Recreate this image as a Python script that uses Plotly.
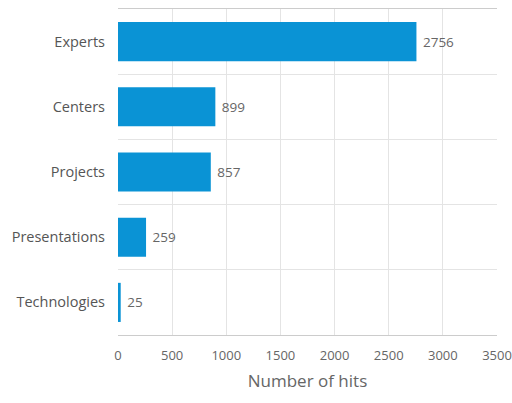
import plotly.graph_objects as go

categories = ["Experts", "Centers", "Projects", "Presentations", "Technologies"]
hits = [2756, 899, 857, 259, 25]
tick_vals = [0, 500, 1000, 1500, 2000, 2500, 3000, 3500]

fig = go.Figure(go.Bar(
    y=categories,
    x=hits,
    orientation="h",
    marker=dict(color="#0a93d5", line=dict(width=0)),
    texttemplate="\u00a0%{x}",
    textposition="outside",
    textfont=dict(color="#666666", size=13.5, family="Open Sans"),
    cliponaxis=False,
))

fig.update_layout(
    width=512, height=403,
    margin=dict(l=118, r=15, t=9, b=68, autoexpand=False),
    paper_bgcolor="white",
    plot_bgcolor="white",
    bargap=0.4,
    showlegend=False,
    font=dict(family="Open Sans", color="#555555", size=13),
    xaxis=dict(
        range=[0, 3500],
        tickvals=tick_vals,
        ticktext=[str(v) for v in tick_vals],
        showgrid=True,
        gridcolor="#e4e4e4",
        zeroline=False,
        showline=True,
        linecolor="#cccccc",
        mirror=True,
        automargin=False,
        ticklabeloverflow="allow",
        tickfont=dict(size=13, color="#666666"),
        title=dict(text="Number of hits", font=dict(size=17, color="#666666"), standoff=12),
        ticks="",
        ticklabelstandoff=8,
    ),
    yaxis=dict(
        autorange="reversed",
        tickson="boundaries",
        showgrid=True,
        gridcolor="#e4e4e4",
        ticks="",
        ticklabelstandoff=12,
        automargin=False,
        tickfont=dict(size=14.5, color="#555555"),
        showline=False,
    ),
)

fig.write_html(
    "out.html",
    config={"displayModeBar": False},
    post_script="document.body.style.margin='0';document.body.style.overflow='hidden';",
)
